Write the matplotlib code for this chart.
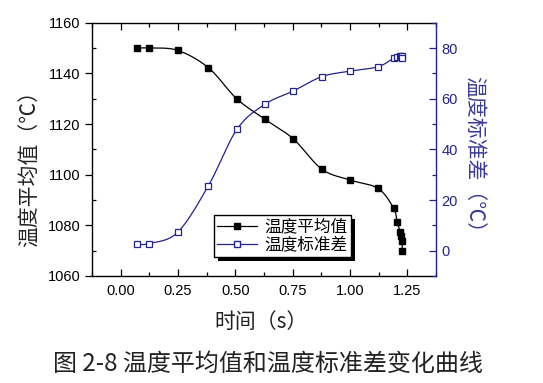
import numpy as np
import matplotlib
matplotlib.use("Agg")
import matplotlib.pyplot as plt
from matplotlib.ticker import MultipleLocator
import matplotlib.patheffects as pe

plt.rcParams['font.family'] = ['Liberation Sans', 'Noto Sans CJK SC', 'DejaVu Sans']

# ---- data ----
time_s = [0.07, 0.123, 0.248, 0.383, 0.507, 0.629, 0.752, 0.877, 1.000, 1.122,
          1.190, 1.206, 1.220, 1.224, 1.227, 1.228]
mean_temp = [1150.0, 1150.0, 1149.1, 1142.2, 1129.9, 1121.9, 1114.2, 1102.2, 1097.9, 1094.6,
             1086.8, 1081.3, 1077.2, 1075.6, 1074.0, 1069.8]
std_temp = [2.5, 2.8, 7.2, 25.7, 47.9, 57.8, 63.0, 68.7, 70.9, 72.6,
            76.0, 76.6, 76.9, 77.0, 76.8, 76.2]
x_ticks = [0.00, 0.25, 0.50, 0.75, 1.00, 1.25]
left_ticks = [1060, 1080, 1100, 1120, 1140, 1160]
right_ticks = [0, 20, 40, 60, 80]
series_names = ["温度平均值", "温度标准差"]
xlabel = "时间（s）"
ylabel_left = "温度平均值（℃）"
ylabel_right = "温度标准差（℃）"
caption = "图 2-8 温度平均值和温度标准差变化曲线"

BLUE = "#23238c"


def smooth(x, y, xr, yr, n=30):
    """Parametric Catmull-Rom curve through the data points (normalized space)."""
    x = np.asarray(x, float)
    y = np.asarray(y, float)
    px = (x - xr[0]) / (xr[1] - xr[0])
    py = (y - yr[0]) / (yr[1] - yr[0])
    P = np.column_stack([px, py])
    P = np.vstack([2 * P[0] - P[1], P, 2 * P[-1] - P[-2]])
    out = []
    for i in range(1, len(P) - 2):
        p0, p1, p2, p3 = P[i - 1], P[i], P[i + 1], P[i + 2]
        t = np.linspace(0, 1, n, endpoint=False)[:, None]
        seg = 0.5 * ((2 * p1) + (-p0 + p2) * t + (2 * p0 - 5 * p1 + 4 * p2 - p3) * t ** 2
                     + (-p0 + 3 * p1 - 3 * p2 + p3) * t ** 3)
        out.append(seg)
    out.append(P[-2][None, :])
    S = np.vstack(out)
    return S[:, 0] * (xr[1] - xr[0]) + xr[0], S[:, 1] * (yr[1] - yr[0]) + yr[0]


fig = plt.figure(figsize=(5.43, 3.83), dpi=100)
ax = fig.add_axes([0.1694, 0.2794, 0.6335, 0.6613])
ax2 = ax.twinx()

xlim = (-0.125, 1.375)
ylim1 = (1060, 1160)
ylim2 = (-10, 90)

sx, sy = smooth(time_s, mean_temp, xlim, ylim1)
ax.plot(sx, sy, color="black", lw=0.9, zorder=2)
ax.plot(time_s, mean_temp, ls="none", marker="s", ms=4.5, color="black", zorder=3)

sx2, sy2 = smooth(time_s, std_temp, xlim, ylim2)
ax2.plot(sx2, sy2, color=BLUE, lw=0.9, zorder=2)
ax2.plot(time_s, std_temp, ls="none", marker="s", ms=4.5, mfc="white", mec=BLUE, mew=0.9, zorder=3)

ax.set_xlim(*xlim)
ax.set_ylim(*ylim1)
ax2.set_ylim(*ylim2)
ax.set_xticks(x_ticks)
ax.set_xticklabels([f"{v:.2f}" for v in x_ticks])
ax.set_yticks(left_ticks)
ax2.set_yticks(right_ticks)
ax.xaxis.set_minor_locator(MultipleLocator(0.125))
ax.yaxis.set_minor_locator(MultipleLocator(10))
ax2.yaxis.set_minor_locator(MultipleLocator(10))

ax.tick_params(axis="x", which="both", direction="in", top=True, labelsize=10.5, pad=6)
ax.tick_params(axis="x", which="major", length=5, width=0.9)
ax.tick_params(axis="x", which="minor", length=3, width=0.9)
ax.tick_params(axis="y", which="major", direction="out", length=5, width=0.9, labelsize=10.5)
ax.tick_params(axis="y", which="minor", direction="in", length=3, width=0.9)
ax2.tick_params(axis="y", which="major", direction="in", length=5, width=0.9,
                colors=BLUE, labelsize=10.5, pad=4)
ax2.tick_params(axis="y", which="minor", direction="in", length=3, width=0.9, colors=BLUE)

for s in ["left", "bottom", "top"]:
    ax.spines[s].set_linewidth(1.0)
ax2.spines["right"].set_color(BLUE)
ax2.spines["right"].set_linewidth(1.0)
ax2.spines["left"].set_visible(False)
ax.spines["right"].set_visible(False)
for s in ["top", "bottom"]:
    ax2.spines[s].set_visible(False)

cjk = ['Noto Sans CJK SC', 'DejaVu Sans']
ax.set_ylabel(ylabel_left, family=cjk, fontsize=15, color="#222222")
ax.yaxis.set_label_coords(-0.148, 0.446)
ax2.set_ylabel(ylabel_right, family=cjk, fontsize=15, rotation=270, color="#3a3a9a",
               va="center", ha="center")
ax2.yaxis.set_label_coords(1.11, 0.458)
ax.set_xlabel(xlabel, family=cjk, fontsize=15, color="#222222")
ax.xaxis.set_label_coords(0.49, -0.14)

# legend
h1 = plt.Line2D([], [], color="black", lw=0.9, marker="s", ms=4.5)
h2 = plt.Line2D([], [], color=BLUE, lw=0.9, marker="s", ms=4.5, mfc="white", mec=BLUE)
leg = ax2.legend([h1, h2], series_names, loc="upper left", bbox_to_anchor=(0.355, 0.24),
                 prop={"family": cjk, "size": 12}, frameon=True, fancybox=False, shadow=False,
                 framealpha=1.0, handlelength=2.4, handletextpad=0.4, borderpad=0.2,
                 labelspacing=0.05, borderaxespad=0.0)
frame = leg.get_frame()
frame.set_edgecolor("black")
frame.set_facecolor("white")
frame.set_linewidth(1.0)
frame.set_path_effects([pe.SimplePatchShadow(offset=(3, -3), shadow_rgbFace="black", alpha=1.0),
                        pe.Normal()])

fig.text(0.494, 0.05, caption, family=cjk, fontsize=17.3, ha="center", va="center",
         color="#222222")

fig.savefig("out.png", dpi=100)
